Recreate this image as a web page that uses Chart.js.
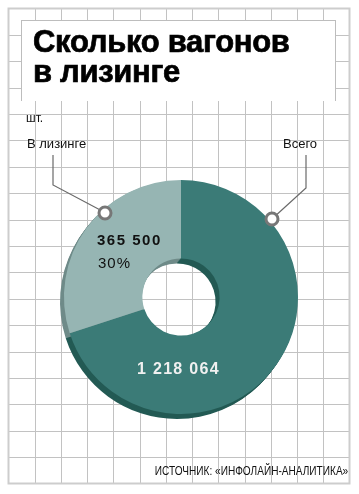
<!DOCTYPE html>
<html>
<head>
<meta charset="utf-8">
<script src="https://cdn.jsdelivr.net/npm/chart.js@4.4.1/dist/chart.umd.min.js"></script>
<style>
  html, body { margin: 0; padding: 0; background: #fff; }
  #wrap { position: relative; width: 359px; height: 494px; overflow: hidden; font-family: "Liberation Sans", Arial, sans-serif; }
  #chart { position: absolute; left: 0; top: 0; }
  .t { position: absolute; white-space: nowrap; color: #111; }
  #titleBox { position: absolute; left: 21px; top: 20px; width: 313px; height: 80px; background: #fff;
    border: 1.5px solid #bdbdbd; border-bottom: none; }
  #title { left: 33px; top: 27px; font-size: 31px; line-height: 30px; font-weight: bold; color: #000;
    -webkit-text-stroke: 0.7px #000; letter-spacing: -0.3px; }
</style>
</head>
<body>
<div id="wrap">
  <canvas id="chart" width="359" height="494"></canvas>
  <div id="titleBox"></div>
  <div class="t" id="title">Сколько вагонов<br>в лизинге</div>
  <div class="t" style="left:26px;top:112px;font-size:12px;line-height:12px;">шт.</div>
  <div class="t" id="lblLeasing" style="left:27px;top:137px;font-size:13px;line-height:13px;"></div>
  <div class="t" id="lblTotal" style="left:283px;top:137px;font-size:13px;line-height:13px;"></div>
  <div class="t" id="valLeasing" style="left:97px;top:232px;font-size:15px;line-height:15px;font-weight:bold;letter-spacing:1.5px;"></div>
  <div class="t" id="pctLeasing" style="left:98px;top:255px;font-size:15px;line-height:15px;letter-spacing:1px;"></div>
  <div class="t" id="valTotal" style="left:137px;top:361px;font-size:16px;line-height:16px;font-weight:bold;letter-spacing:1.3px;color:#f0f0f0;"></div>
  <div class="t" style="right:11px;top:465px;font-size:12px;line-height:12px;transform:scaleX(0.84);transform-origin:right center;">ИСТОЧНИК: «ИНФОЛАЙН-АНАЛИТИКА»</div>
</div>
<script>
// данные
const categories = ['Остальные', 'В лизинге'];
const values = [852564, 365500];
const totalValue = 1218064;
const totalLabel = 'Всего';

const faceColors = ['#3b7b77', '#96b5b3'];
const sideColors = ['#235a54', '#6f8b89'];

function fmt(n) {
    return String(n).replace(/\B(?=(\d{3})+(?!\d))/g, ' ');
}

document.getElementById('lblLeasing').textContent = categories[1];
document.getElementById('lblTotal').textContent = totalLabel;
document.getElementById('valLeasing').textContent = fmt(values[1]);
document.getElementById('pctLeasing').textContent = Math.round(values[1] / totalValue * 100) + '%';
document.getElementById('valTotal').textContent = fmt(totalValue);

// клетка на фоне
const gridPlugin = {
    id: 'grid',
    beforeDraw(chart) {
        const ctx = chart.ctx;
        ctx.save();
        ctx.fillStyle = '#fff';
        ctx.fillRect(0, 0, chart.width, chart.height);
        ctx.strokeStyle = '#c2c2c2';
        ctx.lineWidth = 1;
        const x0 = 8.5, x1 = 349.5, y0 = 8.5, y1 = 483.5;
        for (let i = 1; i < 13; i++) {
            const x = Math.round(x0 + i * (x1 - x0) / 13) + 0.5;
            ctx.beginPath(); ctx.moveTo(x, y0); ctx.lineTo(x, y1); ctx.stroke();
        }
        for (let j = 1; j < 18; j++) {
            const y = Math.round(y0 + j * (y1 - y0) / 18) + 0.5;
            ctx.beginPath(); ctx.moveTo(x0, y); ctx.lineTo(x1, y); ctx.stroke();
        }
        ctx.strokeStyle = '#cdcdcd';
        ctx.lineWidth = 2;
        ctx.strokeRect(x0, y0, x1 - x0, y1 - y0);
        ctx.restore();
    }
};

// объём кольца
const depthPlugin = {
    id: 'depth',
    beforeDatasetsDraw(chart) {
        const ctx = chart.ctx;
        const meta = chart.getDatasetMeta(0);
        ctx.save();
        meta.data.forEach((arc, i) => {
            const p = arc.getProps(['x', 'y', 'startAngle', 'endAngle', 'innerRadius', 'outerRadius'], true);
            ctx.fillStyle = sideColors[i];
            for (let k = 5; k >= 1; k--) {
                const dx = -0.8 * k, dy = k;
                ctx.beginPath();
                ctx.arc(p.x + dx, p.y + dy, p.outerRadius, p.startAngle, p.endAngle);
                ctx.arc(p.x + dx, p.y + dy, p.innerRadius, p.endAngle, p.startAngle, true);
                ctx.closePath();
                ctx.fill();
            }
        });
        ctx.restore();
    }
};

// выноски
const calloutPlugin = {
    id: 'callouts',
    afterDatasetsDraw(chart) {
        const ctx = chart.ctx;
        ctx.save();
        ctx.strokeStyle = '#6a6a6a';
        ctx.lineWidth = 1.2;
        ctx.beginPath();
        ctx.moveTo(53, 155); ctx.lineTo(53, 185); ctx.lineTo(104, 212);
        ctx.moveTo(306, 155); ctx.lineTo(306, 188); ctx.lineTo(273, 218);
        ctx.stroke();
        [[105, 213], [272, 219]].forEach(c => {
            ctx.beginPath();
            ctx.arc(c[0], c[1], 6, 0, Math.PI * 2);
            ctx.fillStyle = '#fff';
            ctx.fill();
            ctx.lineWidth = 3;
            ctx.strokeStyle = '#777';
            ctx.stroke();
        });
        ctx.restore();
    }
};

new Chart(document.getElementById('chart'), {
    type: 'doughnut',
    data: {
        labels: categories,
        datasets: [{
            data: values,
            backgroundColor: faceColors,
            borderWidth: 0
        }]
    },
    options: {
        responsive: false,
        animation: false,
        cutout: '33%',
        rotation: 0,
        layout: { padding: { left: 64, right: 61, top: 180, bottom: 80 } },
        plugins: {
            legend: { display: false },
            tooltip: { enabled: false }
        }
    },
    plugins: [gridPlugin, depthPlugin, calloutPlugin]
});
</script>
</body>
</html>
